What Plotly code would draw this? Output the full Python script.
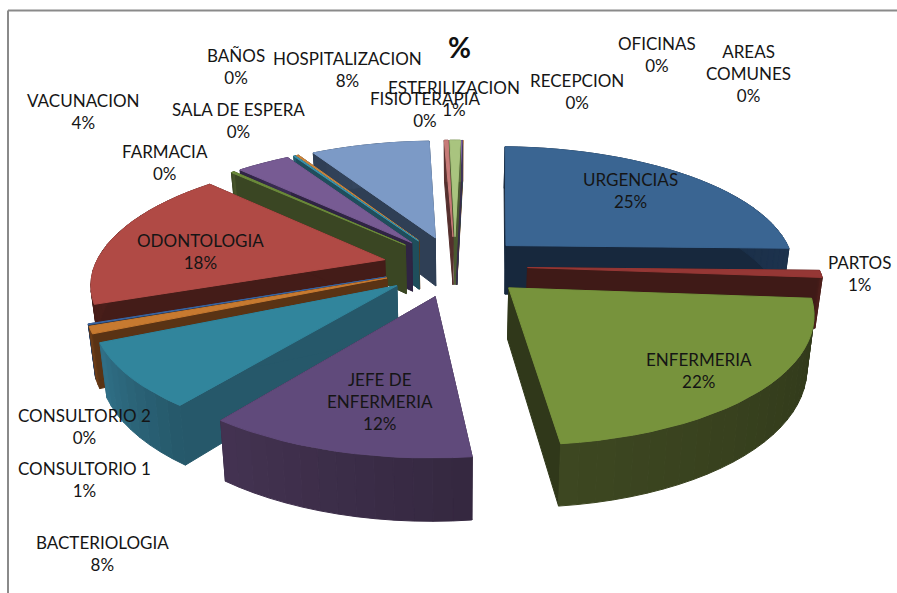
import math
import plotly.graph_objects as go

categories = ["URGENCIAS", "PARTOS", "ENFERMERIA", "JEFE DE<br>ENFERMERIA", "BACTERIOLOGIA",
              "CONSULTORIO 1", "CONSULTORIO 2", "ODONTOLOGIA", "FARMACIA", "VACUNACION",
              "SALA DE ESPERA", "BAÑOS", "HOSPITALIZACION", "FISIOTERAPIA", "ESTERILIZACION",
              "RECEPCION", "OFICINAS", "AREAS<br>COMUNES"]
values = [24.9, 0.9, 21.9, 12.0, 8.0, 0.9, 0.15, 18.1, 0.2, 3.55, 0.1, 0.2, 7.9, 0.25, 0.7, 0.02, 0.02, 0.02]
top_colors = ["#3A6592", "#953735", "#77933C", "#604A7B", "#31859C", "#C77A30",
              "#3B64A0", "#B04A45", "#6B8A3A", "#775B93", "#3A93AD", "#C9853F",
              "#7C9AC6", "#C77B78", "#A9C47F", "#8064A2", "#4BACC6", "#F79646"]
side_colors = ["#17283D", "#3F1A17", "#30381A", "#352840", "#26586A", "#5A3314",
               "#1F3350", "#441C18", "#3A4623", "#2F2443", "#1F4E5C", "#5E3A17",
               "#2F3F55", "#55302E", "#4A5A30", "#3A2C4C", "#205060", "#70431A"]
label_centres = [(630, 190), (859, 273), (699, 370), (380, 401), (102, 553),
                 (84, 479), (84, 426), (200, 251), (165, 162), (83, 111),
                 (238, 120), (236, 66), (347, 69), (425, 109), (454, 98),
                 (577, 91), (657, 54), (748, 73)]

CX, CY, A, B, K = 455, 266, 290, 122, 0.17
EXPLODE, DEPTH, SHRINK, ROTATION = 0.25, 50, 0.98, 1.5
draw_order = [17, 16, 15, 14, 13, 12, 0, 11, 10, 9, 8, 7, 6, 5, 4, 1, 2, 3]


def project(x, y):
    w = 1 + K * y
    return CX + A * x / w, CY - B * y / w, w


def lower(p):
    return CX + (p[0] - CX) * SHRINK, p[1] + DEPTH / p[2]


def shade(hex_colour, f):
    r, g, b = (int(hex_colour[i:i + 2], 16) for i in (1, 3, 5))
    return "rgb({},{},{})".format(*(min(255, int(c * f)) for c in (r, g, b)))


fig = go.Figure()


def poly(points, colour):
    xs = [p[0] for p in points] + [points[0][0]]
    ys = [p[1] for p in points] + [points[0][1]]
    fig.add_trace(go.Scatter(x=xs, y=ys, mode="lines", fill="toself", fillcolor=colour,
                             line=dict(color=colour, width=1), hoverinfo="skip", showlegend=False))


total = sum(values)
starts = []
acc = 0.0
for v in values:
    starts.append(acc / total * 360 + ROTATION)
    acc += v

for i in draw_order:
    a0 = starts[i]
    a1 = a0 + values[i] / total * 360
    mid = math.radians((a0 + a1) / 2)
    ox, oy = EXPLODE * math.sin(mid), EXPLODE * math.cos(mid)
    n = max(2, int((a1 - a0) / 3))
    rim = []
    for j in range(n + 1):
        t = math.radians(a0 + (a1 - a0) * j / n)
        rim.append(project(ox + math.sin(t), oy + math.cos(t)))
    apex = project(ox, oy)
    side = side_colors[i]
    # radial cut faces
    poly([apex, rim[0], lower(rim[0]), lower(apex)], side)
    poly([apex, rim[-1], lower(rim[-1]), lower(apex)], side)
    # outer wall, lighter toward the end of the slice
    for j in range(n):
        f = 1.0 + 0.28 * (j + 0.5) / n
        poly([rim[j], rim[j + 1], lower(rim[j + 1]), lower(rim[j])], shade(side, f))
    poly([apex] + rim, top_colors[i])

LABEL_FONT = dict(family="Lato", size=17, color="#151515")
for name, v, (lx, ly) in zip(categories, values, label_centres):
    fig.add_annotation(x=lx, y=ly, xref="x", yref="y", showarrow=False, xanchor="center", yanchor="middle",
                       text=f"{name}<br>{round(v / total * 100)}%", font=LABEL_FONT, align="center")
fig.add_annotation(x=459, y=47, xref="x", yref="y", showarrow=False, text="<b>%</b>",
                   font=dict(family="Lato", size=28, color="#111111"))

border = dict(color="#8A8A8A", width=2)
fig.add_shape(type="line", x0=8, x1=897, y0=10.5, y1=10.5, xref="x", yref="y", line=border)
fig.add_shape(type="line", x0=8, x1=8, y0=10.5, y1=593, xref="x", yref="y", line=border)

fig.update_layout(width=897, height=593, margin=dict(l=0, r=0, t=0, b=0), paper_bgcolor="white",
                  plot_bgcolor="white", showlegend=False,
                  xaxis=dict(range=[0, 897], visible=False, fixedrange=True),
                  yaxis=dict(range=[593, 0], visible=False, fixedrange=True))
fig.write_html("out.html", config=dict(displayModeBar=False),
               post_script="document.body.style.margin='0';document.documentElement.style.overflow='hidden';")
